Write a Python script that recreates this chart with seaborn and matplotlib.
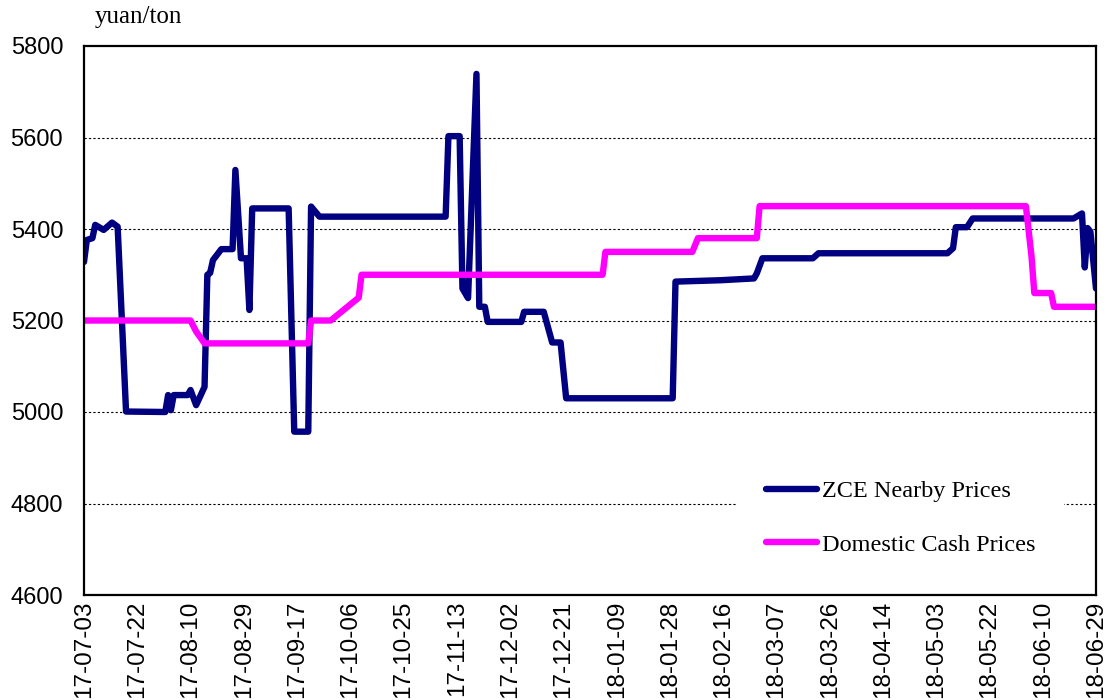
import pandas as pd
import matplotlib.pyplot as plt
import matplotlib.dates as mdates
import seaborn as sns

# days counted from 2017-07-03
start = pd.Timestamp("2017-07-03")

zce_days = [0, 1, 3, 4, 7, 10, 12, 15, 29, 30, 31, 32, 37, 38, 40, 43, 44, 45, 46,
            49, 53, 54, 56, 58, 59, 60, 73, 75, 80, 81, 84, 129, 130, 134, 135, 137,
            140, 141, 143, 144, 156, 157, 164, 167, 170, 172, 210, 211, 227, 239, 240,
            242, 260, 262, 308, 310, 311, 315, 317, 353, 356, 357, 358, 359, 361]
zce_prices = [5328, 5376, 5380, 5409, 5398, 5414, 5405, 5001, 5000, 5037, 5004, 5037,
              5037, 5048, 5015, 5055, 5300, 5304, 5332, 5356, 5356, 5529, 5336, 5336,
              5223, 5445, 5445, 4957, 4957, 5449, 5427, 5427, 5603, 5603, 5270, 5249,
              5739, 5230, 5230, 5197, 5197, 5219, 5219, 5152, 5152, 5030, 5030, 5285,
              5288, 5292, 5303, 5336, 5336, 5347, 5347, 5358, 5404, 5404, 5423, 5423,
              5434, 5316, 5402, 5394, 5270]

cash_days = [0, 38, 40, 43, 80, 81, 88, 98, 99, 185, 186, 217, 219, 240, 241,
             336, 338, 339, 345, 346, 361]
cash_prices = [5200, 5200, 5176, 5150, 5150, 5200, 5200, 5250, 5300, 5300, 5350,
               5350, 5380, 5380, 5450, 5450, 5340, 5260, 5260, 5230, 5230]

zce = pd.DataFrame({"date": start + pd.to_timedelta(zce_days, unit="D"),
                    "price": zce_prices})
cash = pd.DataFrame({"date": start + pd.to_timedelta(cash_days, unit="D"),
                     "price": cash_prices})

sns.set_style("white")
plt.rcParams["font.family"] = ["Liberation Sans", "DejaVu Sans"]
plt.rcParams["text.color"] = "black"

fig = plt.figure(figsize=(11.11, 7), dpi=100)
ax = fig.add_axes([84 / 1111, 1 - 595 / 700, (1096 - 84) / 1111, (595 - 46) / 700])

sns.lineplot(data=zce, x="date", y="price", ax=ax, color="#000080", lw=4.6,
             label="ZCE Nearby Prices", solid_capstyle="round")
sns.lineplot(data=cash, x="date", y="price", ax=ax, color="#FF00FF", lw=4.6,
             label="Domestic Cash Prices", solid_capstyle="round")

ax.set_xlim(start, start + pd.Timedelta(days=361))
ax.set_ylim(4600, 5800)
ax.set_yticks(range(4600, 5801, 200))
ticks = pd.date_range(start, periods=20, freq="19D")
ax.set_xticks(ticks)
ax.xaxis.set_major_formatter(mdates.DateFormatter("%y-%m-%d"))
ax.tick_params(axis="x", rotation=90, labelsize=17.5, direction="in", length=6,
               width=1, pad=4, colors="black")
ax.tick_params(axis="y", labelsize=17, length=0, pad=15, colors="black")
ax.set_xlabel("")
ax.set_ylabel("")

for y in range(4800, 5700, 200):
    ax.axhline(y, color="black", lw=0.8, ls=(0, (2, 2)), zorder=0)

for s in ax.spines.values():
    s.set_visible(True)
    s.set_color("black")
    s.set_linewidth(1.6)

fig.text(95 / 1111, 1 - 23 / 700, "yuan/ton", fontsize=18, color="black",
         family="Liberation Serif", va="baseline")

leg = ax.legend(loc="upper left", bbox_to_anchor=(0.645, 0.262), frameon=True,
                prop={"family": "Liberation Serif", "size": 17.5},
                handlelength=2.1, handletextpad=0.2, labelspacing=1.3,
                borderpad=1.2, borderaxespad=0, fancybox=False)
leg.get_frame().set_facecolor("white")
leg.get_frame().set_edgecolor("none")
leg.get_frame().set_alpha(1)
for t in leg.get_texts():
    t.set_color("black")

fig.savefig("out.png", dpi=100)
